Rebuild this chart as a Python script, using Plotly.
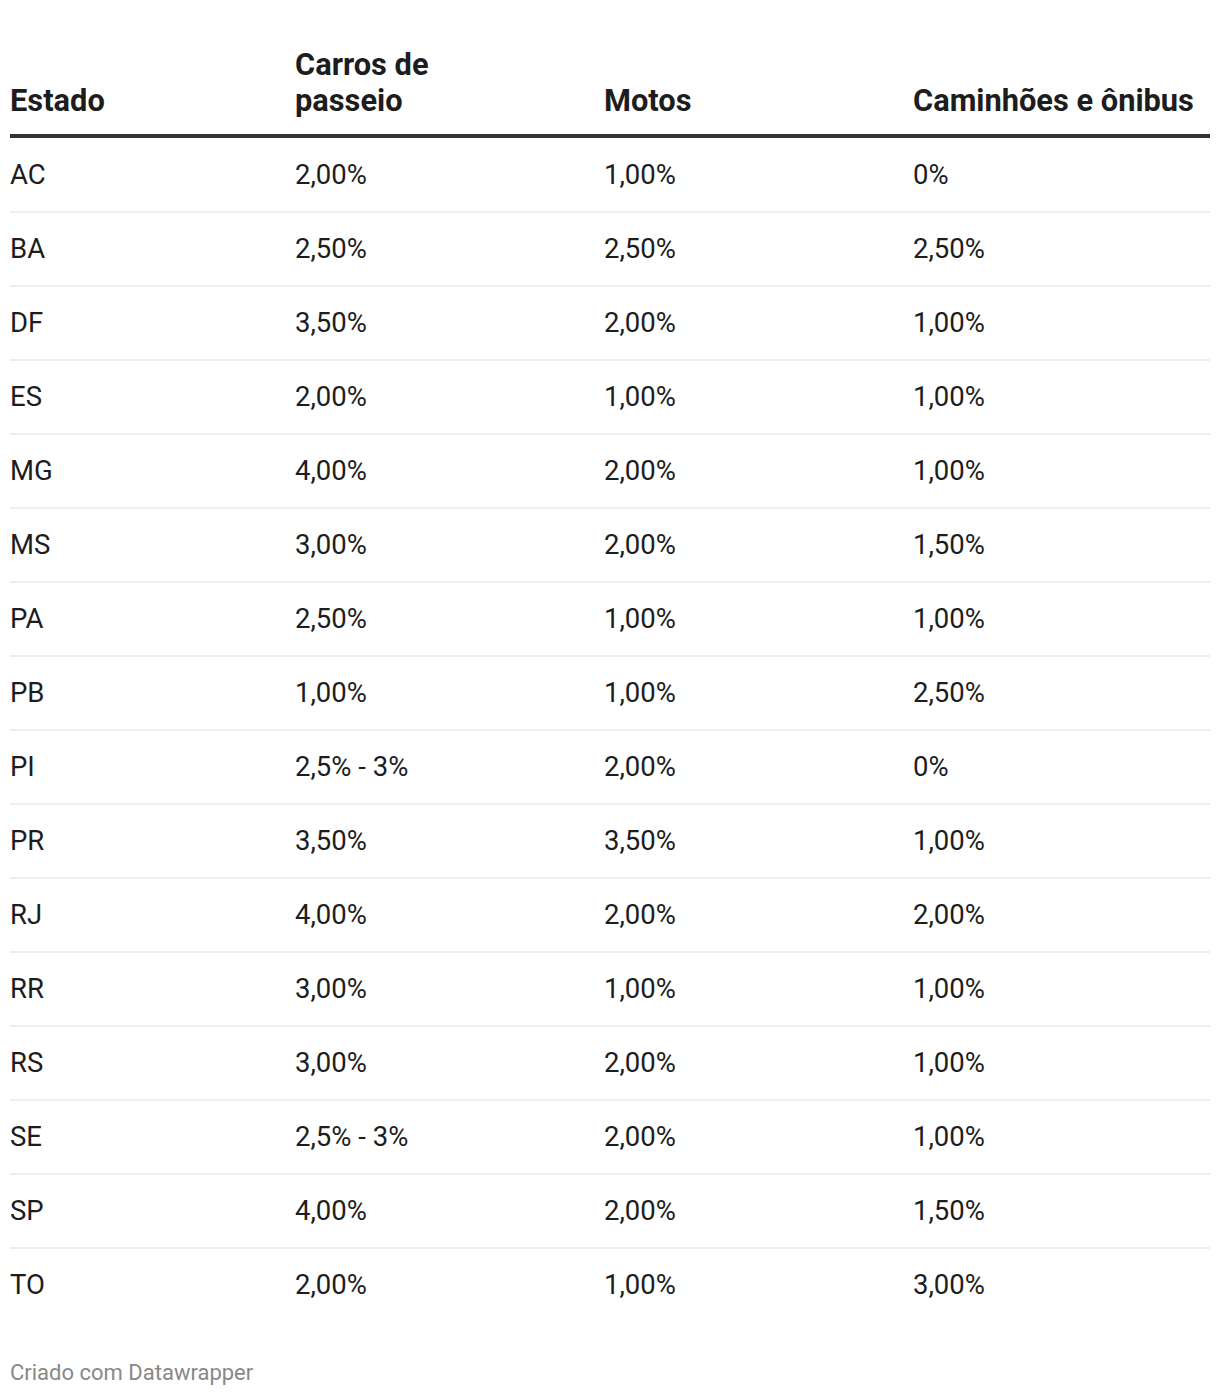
import plotly.graph_objects as go

# Dados da tabela
cabecalhos = ["Estado", "Carros de<br>passeio", "Motos", "Caminhões e ônibus"]
estados = ["AC", "BA", "DF", "ES", "MG", "MS", "PA", "PB", "PI", "PR",
           "RJ", "RR", "RS", "SE", "SP", "TO"]
carros = ["2,00%", "2,50%", "3,50%", "2,00%", "4,00%", "3,00%", "2,50%", "1,00%",
          "2,5% - 3%", "3,50%", "4,00%", "3,00%", "3,00%", "2,5% - 3%", "4,00%", "2,00%"]
motos = ["1,00%", "2,50%", "2,00%", "1,00%", "2,00%", "2,00%", "1,00%", "1,00%",
         "2,00%", "3,50%", "2,00%", "1,00%", "2,00%", "2,00%", "2,00%", "1,00%"]
caminhoes = ["0%", "2,50%", "1,00%", "1,00%", "1,00%", "1,50%", "1,00%", "2,50%",
             "0%", "1,00%", "2,00%", "1,00%", "1,00%", "1,00%", "1,50%", "3,00%"]
rodape = "Criado com Datawrapper"

# Layout: coordenadas dos eixos = pixels da página (body tem margem de 8px)
M = 8
W, H = 1204, 1380
col_x = [10, 295, 604, 913]
x_esq, x_dir = 10, 1210
linha_cab = 136
y_cab, passo_cab = 100, 36
y0, passo = 177, 74

colunas = [estados, carros, motos, caminhoes]
linhas_y = [y0 + passo * i for i in range(len(estados))]

fig = go.Figure()

# Células
for cx, valores in zip(col_x, colunas):
    fig.add_trace(go.Scatter(
        x=[cx] * len(valores),
        y=linhas_y,
        mode='text',
        text=valores,
        textposition='middle right',
        textfont=dict(family='Roboto', size=27.5, color='#1d1d1d'),
        hoverinfo='skip',
        showlegend=False))

# Cabeçalhos (alinhados pela última linha)
for cx, cab in zip(col_x, cabecalhos):
    partes = cab.split('<br>')
    for k, parte in enumerate(reversed(partes)):
        fig.add_annotation(x=cx, y=y_cab - k * passo_cab, text='<b>' + parte + '</b>',
                           xref='x', yref='y', xanchor='left', yanchor='middle',
                           align='left', showarrow=False, xshift=-2,
                           font=dict(family='Roboto', size=30.8, color='#1d1d1d'))

# Linha grossa abaixo do cabeçalho
fig.add_shape(type='line', x0=x_esq, x1=x_dir, y0=linha_cab, y1=linha_cab,
              xref='x', yref='y', line=dict(color='#333333', width=4))

# Separadores entre linhas
for y in linhas_y[:-1]:
    ys = y0 + passo / 2 - 2 + (y - y0)
    fig.add_shape(type='line', x0=x_esq, x1=x_dir, y0=ys, y1=ys,
                  xref='x', yref='y', line=dict(color='#eeeeee', width=2))

# Rodapé
fig.add_annotation(x=x_esq, y=1372, text=rodape, xref='x', yref='y',
                   xanchor='left', yanchor='middle', showarrow=False, xshift=-2,
                   font=dict(family='Roboto', size=22, color='#888888'))

fig.update_xaxes(range=[M, M + W], visible=False, fixedrange=True)
fig.update_yaxes(range=[M + H, M], visible=False, fixedrange=True)
fig.update_layout(
    width=W, height=H,
    margin=dict(l=0, r=0, t=0, b=0),
    paper_bgcolor='white', plot_bgcolor='white')

fig.write_html("out.html")
